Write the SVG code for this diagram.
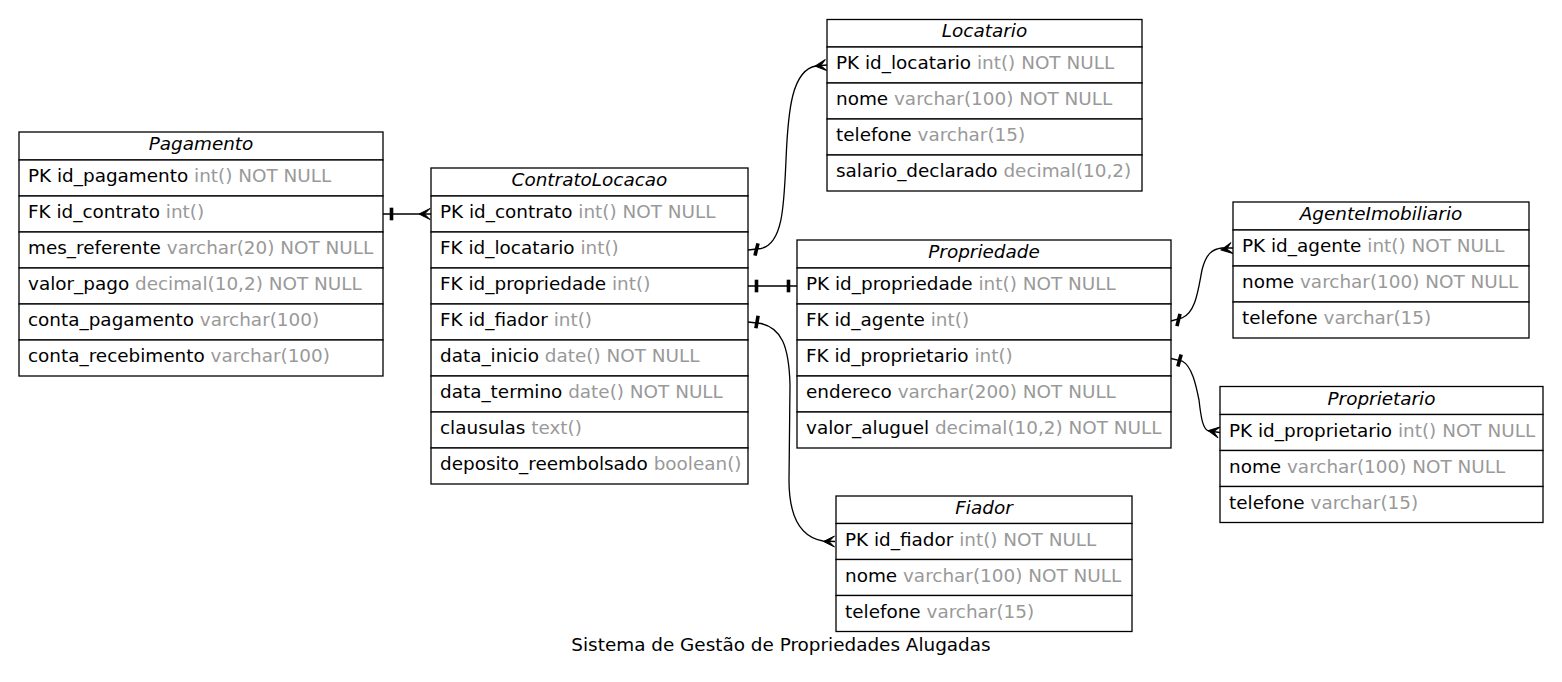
<svg xmlns="http://www.w3.org/2000/svg" xmlns:xlink="http://www.w3.org/1999/xlink" width="1562" height="682" viewBox="0 0 1562 682">
<style>
  .cell { fill: #ffffff; stroke: #000000; stroke-width: 1.3; }
  .t { font-family: "DejaVu Sans", "Liberation Sans", sans-serif; font-size: 18.4px; fill: #000000; }
  .ttl { font-style: italic; text-anchor: middle; }
  .ty { fill: #999999; }
  .edge { fill: none; stroke: #000000; stroke-width: 1.3; }
  .caption { font-family: "DejaVu Sans", "Liberation Sans", sans-serif; font-size: 18.4px; fill: #000000; text-anchor: middle; }
</style>
<defs>
  <rect id="tee" x="-1.8" y="-6.3" width="3.6" height="12.6" fill="#000000"/>
  <polygon id="crow" points="11,0 0,-5.5 5.5,0 0,5.5" fill="#000000" stroke="#000000" stroke-width="1"/>
</defs>
<rect x="0" y="0" width="1562" height="682" fill="#ffffff"/>

<g id="connectors">
  <path class="edge" d="M383,214 L431,214"/>
  <use xlink:href="#tee" href="#tee" transform="translate(391.5,214)"/>
  <use xlink:href="#crow" href="#crow" transform="translate(430,214) rotate(180)"/>

  <path class="edge" d="M748,250 L761,248.5 C783,244 784,205 786,160 C788,110 792,70 816,66 L827,65"/>
  <use xlink:href="#tee" href="#tee" transform="translate(756.5,249.5) rotate(14)"/>
  <use xlink:href="#crow" href="#crow" transform="translate(826,65) rotate(174)"/>

  <path class="edge" d="M748,286 L797,286"/>
  <use xlink:href="#tee" href="#tee" transform="translate(756.5,286)"/>
  <use xlink:href="#tee" href="#tee" transform="translate(788.5,286)"/>

  <path class="edge" d="M748,322 L761,323.5 C781,328 789,345 790,385 L789,480 C789,515 800,537 823,541 L835,541.5"/>
  <use xlink:href="#tee" href="#tee" transform="translate(757,322) rotate(10)"/>
  <use xlink:href="#crow" href="#crow" transform="translate(834.5,541.5) rotate(180)"/>

  <path class="edge" d="M1171,321 L1182,318 C1196,312 1198,290 1202,270 C1206,254 1212,249 1222,248 L1233,248"/>
  <use xlink:href="#tee" href="#tee" transform="translate(1178.5,320) rotate(14)"/>
  <use xlink:href="#crow" href="#crow" transform="translate(1232,248) rotate(170)"/>

  <path class="edge" d="M1171,358.5 L1182,361 C1192,366 1196,385 1199,400 C1201,418 1203,430 1209,431 L1220,432.5"/>
  <use xlink:href="#tee" href="#tee" transform="translate(1179.5,360.5) rotate(15)"/>
  <use xlink:href="#crow" href="#crow" transform="translate(1219,432.5) rotate(190)"/>
</g>

<g id="Pagamento">
  <rect class="cell" x="19" y="132" width="364" height="28"/>
  <text class="t ttl" x="201" y="150">Pagamento</text>
  <rect class="cell" x="19" y="160" width="364" height="36"/>
  <text class="t" x="28" y="182">PK id_pagamento <tspan class="ty">int() NOT NULL</tspan></text>
  <rect class="cell" x="19" y="196" width="364" height="36"/>
  <text class="t" x="28" y="218">FK id_contrato <tspan class="ty">int()</tspan></text>
  <rect class="cell" x="19" y="232" width="364" height="36"/>
  <text class="t" x="28" y="254">mes_referente <tspan class="ty">varchar(20) NOT NULL</tspan></text>
  <rect class="cell" x="19" y="268" width="364" height="36"/>
  <text class="t" x="28" y="290">valor_pago <tspan class="ty">decimal(10,2) NOT NULL</tspan></text>
  <rect class="cell" x="19" y="304" width="364" height="36"/>
  <text class="t" x="28" y="326">conta_pagamento <tspan class="ty">varchar(100)</tspan></text>
  <rect class="cell" x="19" y="340" width="364" height="36"/>
  <text class="t" x="28" y="362">conta_recebimento <tspan class="ty">varchar(100)</tspan></text>
</g>

<g id="ContratoLocacao">
  <rect class="cell" x="431" y="168" width="317" height="28"/>
  <text class="t ttl" x="589.5" y="186">ContratoLocacao</text>
  <rect class="cell" x="431" y="196" width="317" height="36"/>
  <text class="t" x="440" y="218">PK id_contrato <tspan class="ty">int() NOT NULL</tspan></text>
  <rect class="cell" x="431" y="232" width="317" height="36"/>
  <text class="t" x="440" y="254">FK id_locatario <tspan class="ty">int()</tspan></text>
  <rect class="cell" x="431" y="268" width="317" height="36"/>
  <text class="t" x="440" y="290">FK id_propriedade <tspan class="ty">int()</tspan></text>
  <rect class="cell" x="431" y="304" width="317" height="36"/>
  <text class="t" x="440" y="326">FK id_fiador <tspan class="ty">int()</tspan></text>
  <rect class="cell" x="431" y="340" width="317" height="36"/>
  <text class="t" x="440" y="362">data_inicio <tspan class="ty">date() NOT NULL</tspan></text>
  <rect class="cell" x="431" y="376" width="317" height="36"/>
  <text class="t" x="440" y="398">data_termino <tspan class="ty">date() NOT NULL</tspan></text>
  <rect class="cell" x="431" y="412" width="317" height="36"/>
  <text class="t" x="440" y="434">clausulas <tspan class="ty">text()</tspan></text>
  <rect class="cell" x="431" y="448" width="317" height="36"/>
  <text class="t" x="440" y="470">deposito_reembolsado <tspan class="ty">boolean()</tspan></text>
</g>

<g id="Locatario">
  <rect class="cell" x="827" y="19.5" width="315" height="27.5"/>
  <text class="t ttl" x="984.5" y="37">Locatario</text>
  <rect class="cell" x="827" y="47" width="315" height="36"/>
  <text class="t" x="836" y="69">PK id_locatario <tspan class="ty">int() NOT NULL</tspan></text>
  <rect class="cell" x="827" y="83" width="315" height="36"/>
  <text class="t" x="836" y="105">nome <tspan class="ty">varchar(100) NOT NULL</tspan></text>
  <rect class="cell" x="827" y="119" width="315" height="36"/>
  <text class="t" x="836" y="141">telefone <tspan class="ty">varchar(15)</tspan></text>
  <rect class="cell" x="827" y="155" width="315" height="36"/>
  <text class="t" x="836" y="177">salario_declarado <tspan class="ty">decimal(10,2)</tspan></text>
</g>

<g id="Propriedade">
  <rect class="cell" x="797" y="240" width="374" height="28"/>
  <text class="t ttl" x="984" y="258">Propriedade</text>
  <rect class="cell" x="797" y="268" width="374" height="36"/>
  <text class="t" x="806" y="290">PK id_propriedade <tspan class="ty">int() NOT NULL</tspan></text>
  <rect class="cell" x="797" y="304" width="374" height="36"/>
  <text class="t" x="806" y="326">FK id_agente <tspan class="ty">int()</tspan></text>
  <rect class="cell" x="797" y="340" width="374" height="36"/>
  <text class="t" x="806" y="362">FK id_proprietario <tspan class="ty">int()</tspan></text>
  <rect class="cell" x="797" y="376" width="374" height="36"/>
  <text class="t" x="806" y="398">endereco <tspan class="ty">varchar(200) NOT NULL</tspan></text>
  <rect class="cell" x="797" y="412" width="374" height="36"/>
  <text class="t" x="806" y="434">valor_aluguel <tspan class="ty">decimal(10,2) NOT NULL</tspan></text>
</g>

<g id="AgenteImobiliario">
  <rect class="cell" x="1233" y="202" width="296" height="28"/>
  <text class="t ttl" x="1381" y="220">AgenteImobiliario</text>
  <rect class="cell" x="1233" y="230" width="296" height="36"/>
  <text class="t" x="1242" y="252">PK id_agente <tspan class="ty">int() NOT NULL</tspan></text>
  <rect class="cell" x="1233" y="266" width="296" height="36"/>
  <text class="t" x="1242" y="288">nome <tspan class="ty">varchar(100) NOT NULL</tspan></text>
  <rect class="cell" x="1233" y="302" width="296" height="36"/>
  <text class="t" x="1242" y="324">telefone <tspan class="ty">varchar(15)</tspan></text>
</g>

<g id="Proprietario">
  <rect class="cell" x="1220" y="386.5" width="323" height="28"/>
  <text class="t ttl" x="1381.5" y="404.5">Proprietario</text>
  <rect class="cell" x="1220" y="414.5" width="323" height="36"/>
  <text class="t" x="1229" y="436.5">PK id_proprietario <tspan class="ty">int() NOT NULL</tspan></text>
  <rect class="cell" x="1220" y="450.5" width="323" height="36"/>
  <text class="t" x="1229" y="472.5">nome <tspan class="ty">varchar(100) NOT NULL</tspan></text>
  <rect class="cell" x="1220" y="486.5" width="323" height="36"/>
  <text class="t" x="1229" y="508.5">telefone <tspan class="ty">varchar(15)</tspan></text>
</g>

<g id="Fiador">
  <rect class="cell" x="836" y="496" width="296" height="27.5"/>
  <text class="t ttl" x="984" y="513.5">Fiador</text>
  <rect class="cell" x="836" y="523.5" width="296" height="36"/>
  <text class="t" x="845" y="545.5">PK id_fiador <tspan class="ty">int() NOT NULL</tspan></text>
  <rect class="cell" x="836" y="559.5" width="296" height="36"/>
  <text class="t" x="845" y="581.5">nome <tspan class="ty">varchar(100) NOT NULL</tspan></text>
  <rect class="cell" x="836" y="595.5" width="296" height="36"/>
  <text class="t" x="845" y="617.5">telefone <tspan class="ty">varchar(15)</tspan></text>
</g>

<text id="caption" class="caption" x="781" y="651">Sistema de Gestão de Propriedades Alugadas</text>
</svg>
